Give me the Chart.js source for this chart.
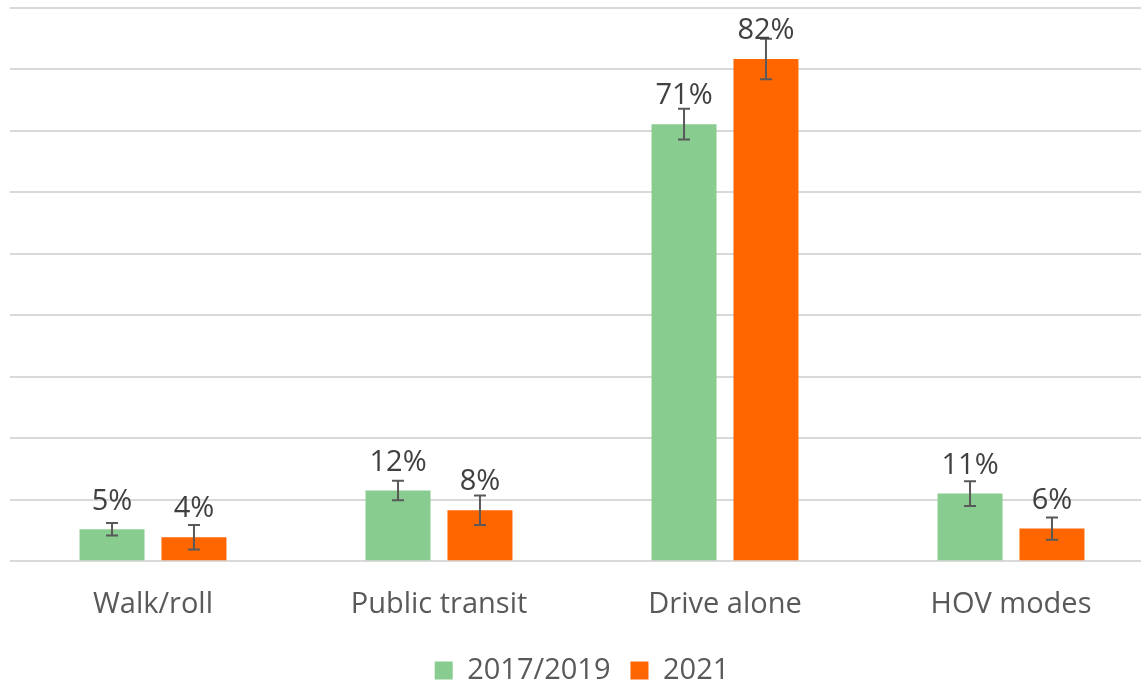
<!DOCTYPE html>
<html>
<head>
<meta charset="utf-8">
<script src="https://cdn.jsdelivr.net/npm/chart.js@4"></script>
<style>
  html, body { margin: 0; padding: 0; background: #fff; overflow: hidden; }
  #wrap { width: 1154px; height: 681px; position: relative; }
</style>
</head>
<body>
<div id="wrap"><canvas id="modeChart"></canvas></div>
<script>
const CATEGORIES = ['Walk/roll', 'Public transit', 'Drive alone', 'HOV modes'];
const SERIES_NAMES = ['2017/2019', '2021'];

// bar heights (percent)
const VALUES_2019 = [5.2, 11.5, 71.1, 11.0];
const VALUES_2021 = [3.9, 8.3, 81.7, 5.3];

// error bar half widths (percent)
const ERR_2019 = [1.0, 1.6, 2.5, 2.0];
const ERR_2021 = [2.0, 2.4, 3.3, 1.8];

// printed labels
const LABELS_2019 = ['5%', '12%', '71%', '11%'];
const LABELS_2021 = ['4%', '8%', '82%', '6%'];

const GREEN = '#88cc8f';
const ORANGE = '#ff6600';
const FONT = "'Open Sans', sans-serif";

const errorBarPlugin = {
    id: 'errorBars',
    afterDatasetsDraw(chart) {
        const ctx = chart.ctx;
        const yScale = chart.scales.y;
        chart.data.datasets.forEach((ds, di) => {
            const meta = chart.getDatasetMeta(di);
            meta.data.forEach((bar, i) => {
                const v = ds.data[i];
                const e = ds.errors[i];
                const x = bar.x;
                const yTop = yScale.getPixelForValue(v + e);
                const yBot = yScale.getPixelForValue(v - e);
                ctx.save();
                ctx.strokeStyle = '#595959';
                ctx.lineWidth = 2;
                ctx.beginPath();
                ctx.moveTo(x, yTop);
                ctx.lineTo(x, yBot);
                ctx.moveTo(x - 6, yTop);
                ctx.lineTo(x + 6, yTop);
                ctx.moveTo(x - 6, yBot);
                ctx.lineTo(x + 6, yBot);
                ctx.stroke();

                ctx.fillStyle = '#404040';
                ctx.font = '29px ' + FONT;
                ctx.textAlign = 'center';
                ctx.textBaseline = 'middle';
                ctx.fillText(ds.valueLabels[i], x, bar.y - 28);
                ctx.restore();
            });
        });
    }
};

new Chart(document.getElementById('modeChart'), {
    type: 'bar',
    data: {
        labels: CATEGORIES,
        datasets: [
            {
                label: SERIES_NAMES[0],
                data: VALUES_2019,
                errors: ERR_2019,
                valueLabels: LABELS_2019,
                backgroundColor: GREEN,
                categoryPercentage: 0.573,
                barPercentage: 0.793
            },
            {
                label: SERIES_NAMES[1],
                data: VALUES_2021,
                errors: ERR_2021,
                valueLabels: LABELS_2021,
                backgroundColor: ORANGE,
                categoryPercentage: 0.573,
                barPercentage: 0.793
            }
        ]
    },
    options: {
        responsive: true,
        maintainAspectRatio: false,
        animation: false,
        layout: {
            padding: { left: 10, right: 0, top: 8, bottom: -14 }
        },
        scales: {
            x: {
                grid: { display: false },
                border: { display: false },
                ticks: {
                    color: '#595959',
                    font: { family: FONT, size: 29 },
                    padding: 18
                },
                afterFit(scale) {
                    scale.height -= 4;
                }
            },
            y: {
                min: 0,
                max: 90,
                border: { display: false },
                grid: { color: '#d9d9d9', lineWidth: 2, drawTicks: false },
                ticks: { display: false, stepSize: 10 }
            }
        },
        plugins: {
            legend: {
                position: 'bottom',
                labels: {
                    color: '#595959',
                    font: { family: FONT, size: 29 },
                    boxWidth: 18,
                    boxHeight: 18,
                    padding: 20
                }
            },
            tooltip: { enabled: false }
        }
    },
    plugins: [errorBarPlugin]
});
</script>
</body>
</html>
